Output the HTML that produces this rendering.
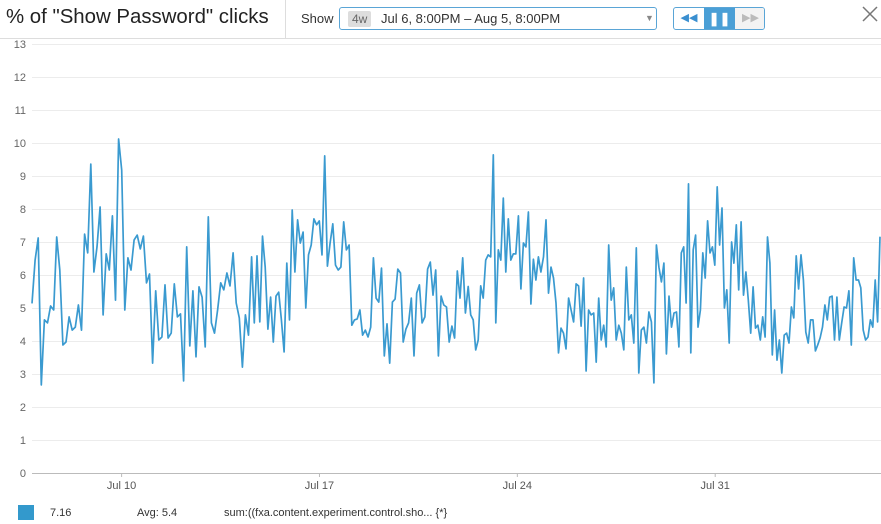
<!DOCTYPE html>
<html><head><meta charset="utf-8">
<style>
body{margin:0;width:881px;height:524px;overflow:hidden;background:#fff;font-family:"Liberation Sans",sans-serif;position:relative}
.abs{position:absolute}
</style></head><body>
<div class="abs" style="left:0;top:0;width:881px;height:38px;border-bottom:1px solid #ddd"></div>
<div class="abs" style="left:6px;top:6px;font-size:20.4px;color:#222">% of "Show Password" clicks</div>
<div class="abs" style="left:285px;top:0;width:1px;height:38px;background:#ddd"></div>
<div class="abs" style="left:301px;top:11px;font-size:13px;color:#333">Show</div>
<div class="abs" style="left:339px;top:7px;width:318px;height:23px;border:1px solid #5aa5d6;border-radius:3px;box-sizing:border-box">
 <span class="abs" style="left:8px;top:3px;background:#ddd;color:#666;font-size:12px;padding:1px 4px;border-radius:2px">4w</span>
 <span class="abs" style="left:41px;top:3px;font-size:13px;color:#333">Jul 6, 8:00PM – Aug 5, 8:00PM</span>
 <span class="abs" style="left:305px;top:5px;font-size:9px;color:#888">▼</span>
</div>
<div class="abs" style="left:673px;top:7px;width:92px;height:23px;border:1px solid #5aa5d6;border-radius:3px;box-sizing:border-box;overflow:hidden">
 <div class="abs" style="left:0;top:0;width:30px;height:21px;color:#3a8fd0;font-size:11px;text-align:center;line-height:21px">◀◀</div>
 <div class="abs" style="left:30px;top:0;width:31px;height:21px;background:#4a9fd6;color:#fff;font-size:13px;text-align:center;line-height:21px;font-weight:bold">❚❚</div>
 <div class="abs" style="left:61px;top:0;width:31px;height:21px;background:#f3f3f3;color:#bbb;font-size:11px;text-align:center;line-height:21px">▶▶</div>
</div>
<svg class="abs" style="left:862px;top:6px" width="16" height="16"><path d="M1 1L15 15M15 1L1 15" stroke="#777" stroke-width="1.5"/></svg>
<svg class="abs" style="left:0;top:0" width="881" height="524" id="chart"></svg>
<div class="abs" style="left:18px;top:505px;width:16px;height:15px;background:#3399cc"></div>
<div class="abs" style="left:50px;top:507px;font-size:11px;color:#333">7.16</div>
<div class="abs" style="left:137px;top:507px;font-size:11px;color:#333">Avg: 5.4</div>
<div class="abs" style="left:224px;top:507px;font-size:11px;color:#333">sum:((fxa.content.experiment.control.sho... {*}</div>
<script>
const yTicks=[0,1,2,3,4,5,6,7,8,9,10,11,12,13];
const xLabels=["Jul 10","Jul 17","Jul 24","Jul 31"];
const xLabelDays=[3.17,10.17,17.17,24.17];
// sample index -> elapsed day anchors (sampling was irregular in the source)
const anchorIndex=[0,71,151,234,319];
const anchorDay=[0,7.77,15.43,22.80,30];
const values=[5.14,6.45,7.12,2.67,4.64,4.55,5.06,4.94,7.15,6.15,3.88,3.97,4.73,4.33,4.42,5.09,4.33,7.24,6.67,9.36,6.09,6.85,8.06,4.79,6.64,6.15,7.79,5.24,10.12,9.18,4.94,6.52,6.15,7.06,7.21,6.79,7.18,5.76,6.03,3.33,5.52,4.03,4.12,5.70,4.09,4.24,5.73,4.73,4.82,2.79,6.85,3.85,5.52,3.52,5.64,5.33,3.82,7.76,4.55,4.24,4.94,5.76,5.55,6.06,5.67,6.67,5.15,4.70,3.21,4.79,4.18,
6.55,4.55,6.58,4.58,7.18,6.24,4.36,5.33,3.97,5.36,5.48,4.64,3.67,6.36,4.64,7.97,6.09,7.67,6.97,7.30,5.00,6.61,6.91,7.70,7.52,7.64,6.61,9.61,6.27,6.97,7.55,6.30,6.15,6.24,7.61,6.76,6.91,4.48,4.64,4.67,4.94,4.18,4.33,4.12,4.42,6.52,5.30,5.18,6.21,3.55,4.52,3.33,5.18,5.27,6.18,6.06,3.97,4.36,4.55,5.30,3.55,5.45,5.70,4.55,4.73,6.18,6.39,5.39,6.15,3.55,5.36,5.09,5.03,3.97,4.45,4.09,6.12,5.30,6.52,4.85,
5.65,4.79,4.64,3.73,4.03,5.67,5.30,6.45,6.61,6.55,9.64,4.55,6.76,6.45,8.33,6.09,7.70,6.45,6.64,6.64,7.79,5.58,6.97,6.85,7.91,5.12,6.48,5.85,6.55,6.09,6.55,7.67,5.45,6.24,5.91,5.15,3.64,4.39,4.24,3.76,5.30,4.94,4.58,5.73,5.67,4.45,5.91,3.09,4.94,4.79,4.85,3.36,5.30,4.03,4.48,3.82,6.91,5.24,5.61,4.03,4.48,4.24,3.73,6.24,4.64,4.79,3.94,6.82,3.03,4.33,4.42,3.94,4.88,4.58,2.73,6.91,6.24,5.79,6.36,3.61,5.36,4.42,4.85,
4.88,3.82,6.67,6.85,5.15,8.76,3.64,6.76,7.21,4.42,4.94,6.67,5.91,7.64,6.67,6.85,6.30,8.67,6.91,8.03,5.00,5.55,3.94,7.00,6.36,7.52,5.55,7.61,5.39,6.09,5.24,4.24,5.64,4.39,4.48,4.03,4.73,4.12,7.15,6.36,3.58,4.94,3.42,4.03,3.03,4.18,4.24,3.94,5.03,4.70,6.58,5.58,6.61,5.85,4.27,3.94,4.64,4.64,3.70,3.88,4.09,4.42,5.09,4.64,5.33,5.36,4.03,5.33,4.03,4.55,5.03,5.00,5.52,3.88,6.52,5.85,5.85,5.61,4.33,4.03,4.12,4.64,4.42,5.85,4.58,7.16];
const X0=32,X1=880,Y0=473,Y13=44,totalDays=30;
const svg=document.getElementById('chart');const NS='http://www.w3.org/2000/svg';
function ys(v){return Y0-(v/13)*(Y0-Y13);}
function xd(d){return X0+(d/totalDays)*(X1-X0);}
function dayOf(i){
 const n=values.length-1;
 const idx=anchorIndex.map(a=>a*n/anchorIndex[anchorIndex.length-1]);
 for(let k=0;k<idx.length-1;k++){
  if(i<=idx[k+1]){return anchorDay[k]+(i-idx[k])/(idx[k+1]-idx[k])*(anchorDay[k+1]-anchorDay[k]);}
 }
 return anchorDay[anchorDay.length-1];
}
function xi(i){return xd(dayOf(i));}
function mk(t,a){const e=document.createElementNS(NS,t);for(const k in a)e.setAttribute(k,a[k]);svg.appendChild(e);return e;}
yTicks.forEach(t=>{
 const l=mk('line',{x1:X0,x2:881,y1:ys(t)+0.5,y2:ys(t)+0.5,stroke:t===0?'#bbb':'#ececec','stroke-width':1});
 
 
 const tx=mk('text',{x:26,y:ys(t)+4,'text-anchor':'end','font-size':11,fill:'#666','font-family':'Liberation Sans, sans-serif'});
 tx.textContent=t;
 
 
});
xLabels.forEach((lab,i)=>{
 const x=xd(xLabelDays[i]);
 const tk=mk('line',{x1:x,x2:x,y1:Y0,y2:Y0+4,stroke:'#bbb'});
 
 
 const tx=mk('text',{x:x,y:489,'text-anchor':'middle','font-size':11,fill:'#555','font-family':'Liberation Sans, sans-serif'});
 tx.textContent=lab;
 
 
});
const pts=values.map((v,i)=>xi(i).toFixed(1)+','+ys(v).toFixed(1)).join(' ');
const pl=mk('polyline',{points:pts,fill:'none',stroke:'#3a9ad0','stroke-width':1.7,'stroke-linejoin':'round'});


</script>
</body></html>
